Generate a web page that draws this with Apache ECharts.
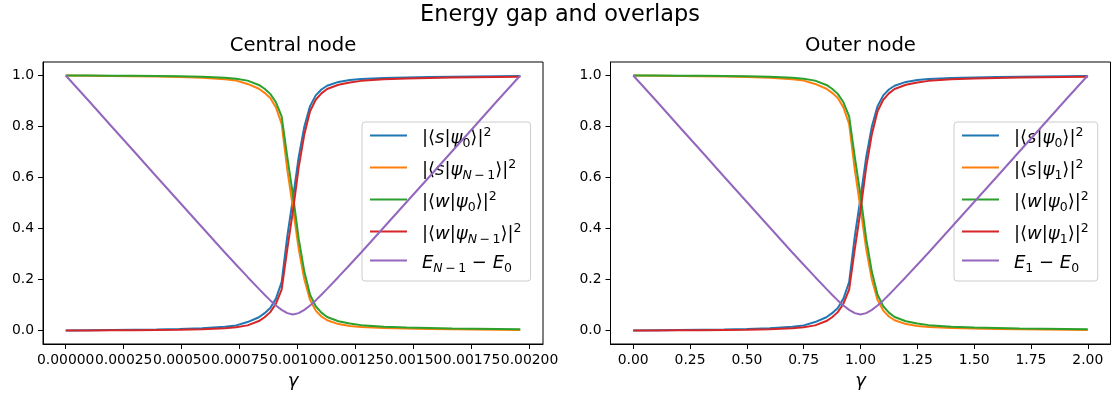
<!DOCTYPE html>
<html>
<head>
<meta charset="utf-8">
<script src="https://cdn.jsdelivr.net/npm/echarts@6/dist/echarts.min.js"></script>
<style>
  html, body { margin: 0; padding: 0; background: #fff; }
  #chart { width: 1119px; height: 397px; }
</style>
</head>
<body>
<div id="chart"></div>
<script>
// Coupling values for the outer-node sweep (γ from 0 to 2)
const gammaOuter = [0, 0.1, 0.2, 0.3, 0.4, 0.5, 0.6, 0.7, 0.75, 0.8, 0.85, 0.875, 0.9, 0.925, 0.95, 0.975,
  1.0, 1.025, 1.05, 1.075, 1.1, 1.125, 1.15, 1.2, 1.25, 1.3, 1.4, 1.5, 1.6, 1.7, 1.8, 1.9, 2.0];
// Coupling values for the central-node sweep
const gammaCentral = [0, 0.000098, 0.000196, 0.000294, 0.000392, 0.00049, 0.000588, 0.000686, 0.000735, 0.000784,
  0.000833, 0.0008575, 0.000882, 0.0009065, 0.000931, 0.0009555, 0.00098, 0.0010045, 0.001029, 0.0010535,
  0.001078, 0.0011025, 0.001127, 0.001176, 0.001225, 0.001274, 0.001372, 0.00147, 0.001568, 0.001666,
  0.001764, 0.001862, 0.00196];

// |<s|psi_0>|^2
const overlapS0 = [0.000, 0.001, 0.002, 0.003, 0.004, 0.006, 0.009, 0.015, 0.020, 0.033, 0.052, 0.068, 0.088, 0.125, 0.19, 0.37,
  0.52, 0.68, 0.80, 0.88, 0.922, 0.945, 0.960, 0.975, 0.982, 0.986, 0.990, 0.992, 0.994, 0.995, 0.996, 0.997, 0.998];
// |<s|psi_excited>|^2
const overlapS1 = [1.000, 0.999, 0.998, 0.997, 0.996, 0.994, 0.991, 0.985, 0.980, 0.967, 0.948, 0.932, 0.912, 0.875, 0.81, 0.63,
  0.48, 0.32, 0.20, 0.12, 0.078, 0.055, 0.040, 0.025, 0.018, 0.014, 0.010, 0.008, 0.006, 0.005, 0.004, 0.003, 0.002];
// |<w|psi_0>|^2
const overlapW0 = [1.000, 1.000, 0.999, 0.999, 0.998, 0.997, 0.995, 0.991, 0.987, 0.980, 0.963, 0.948, 0.928, 0.895, 0.84, 0.68,
  0.53, 0.36, 0.23, 0.14, 0.095, 0.070, 0.053, 0.036, 0.027, 0.021, 0.015, 0.012, 0.010, 0.008, 0.007, 0.006, 0.005];
// |<w|psi_excited>|^2
const overlapW1 = [0.000, 0.000, 0.001, 0.001, 0.002, 0.003, 0.005, 0.009, 0.013, 0.020, 0.037, 0.052, 0.072, 0.105, 0.16, 0.32,
  0.47, 0.64, 0.77, 0.86, 0.905, 0.930, 0.947, 0.964, 0.973, 0.979, 0.985, 0.988, 0.990, 0.992, 0.993, 0.994, 0.995];
// Energy gap between the two lowest relevant levels
const energyGap = [1.000, 0.902, 0.802, 0.703, 0.603, 0.504, 0.405, 0.306, 0.258, 0.210, 0.163, 0.140, 0.118, 0.098, 0.081, 0.068,
  0.063, 0.068, 0.081, 0.098, 0.118, 0.140, 0.163, 0.210, 0.258, 0.306, 0.405, 0.504, 0.603, 0.703, 0.802, 0.902, 1.000];

const yTicks = [0, 0.2, 0.4, 0.6, 0.8, 1.0];
const xTicksCentral = [0, 0.00025, 0.0005, 0.00075, 0.001, 0.00125, 0.0015, 0.00175, 0.002];
const xTicksOuter = [0, 0.25, 0.5, 0.75, 1.0, 1.25, 1.5, 1.75, 2.0];

const namesCentral = ['s0', 'sN', 'w0', 'wN', 'gapN'];
const namesOuter = ['s0', 's1', 'w0', 'w1', 'gap1'];
const colors = ['#1f77b4', '#ff7f0e', '#2ca02c', '#d62728', '#9467bd'];
const valueSets = [overlapS0, overlapS1, overlapW0, overlapW1, energyGap];

// Math-style legend labels as rich text
const TS = '\u2009';
const legendLabels = {
  s0:   '{g| }{t||⟨}{i|s}{t||}{i|ψ}{sb|0}{t|⟩|}{sp|2}',
  sN:   '{g| }{t||⟨}{i|s}{t||}{i|ψ}{si|N}{sb|' + TS + '−' + TS + '1}{t|⟩|}{sp|2}',
  w0:   '{g| }{t||⟨}{i|w}{t||}{i|ψ}{sb|0}{t|⟩|}{sp|2}',
  wN:   '{g| }{t||⟨}{i|w}{t||}{i|ψ}{si|N}{sb|' + TS + '−' + TS + '1}{t|⟩|}{sp|2}',
  gapN: '{g| }{i|E}{si|N}{sb|' + TS + '−' + TS + '1}{t| − }{i|E}{sb|0}',
  s1:   '{g| }{t||⟨}{i|s}{t||}{i|ψ}{sb|1}{t|⟩|}{sp|2}',
  w1:   '{g| }{t||⟨}{i|w}{t||}{i|ψ}{sb|1}{t|⟩|}{sp|2}',
  gap1: '{g| }{i|E}{sb|1}{t| − }{i|E}{sb|0}'
};

const FONT = 'DejaVu Sans';
const richStyles = {
  g:  { width: 10, fontSize: 18, lineHeight: 24 },
  t:  { fontFamily: FONT, fontSize: 18, lineHeight: 24, color: '#000' },
  i:  { fontFamily: FONT, fontSize: 18, fontStyle: 'italic', lineHeight: 24, color: '#000' },
  sb: { fontFamily: FONT, fontSize: 12.5, lineHeight: 14, verticalAlign: 'bottom', color: '#000' },
  si: { fontFamily: FONT, fontSize: 12.5, fontStyle: 'italic', lineHeight: 14, verticalAlign: 'bottom', color: '#000' },
  sp: { fontFamily: FONT, fontSize: 12.5, lineHeight: 14, verticalAlign: 'top', color: '#000' }
};

function makeLegend(names, left) {
  return {
    data: names,
    orient: 'vertical',
    left: left,
    top: 122,
    icon: 'rect',
    itemWidth: 37,
    itemHeight: 2,
    itemGap: 8,
    padding: [4, 9, 6, 8],
    backgroundColor: 'rgba(255,255,255,0.8)',
    borderColor: '#cccccc',
    borderWidth: 1,
    borderRadius: 3,
    selectedMode: false,
    formatter: name => legendLabels[name],
    textStyle: { fontFamily: FONT, fontSize: 18, color: '#000', padding: [5, 0, 0, 0], rich: richStyles }
  };
}

function makeSeries(xs, names, axisIndex) {
  return names.map((name, k) => ({
    name: name,
    type: 'line',
    xAxisIndex: axisIndex,
    yAxisIndex: axisIndex,
    data: xs.map((x, i) => [x, valueSets[k][i]]),
    showSymbol: false,
    symbol: 'none',
    lineStyle: { width: 2, color: colors[k] },
    itemStyle: { color: colors[k] },
    z: 2 + k
  }));
}

const tickLabelStyle = { fontFamily: FONT, fontSize: 13.9, color: '#000' };

function makeXAxis(gridIndex, min, max, ticks, digits) {
  return {
    type: 'value',
    gridIndex: gridIndex,
    min: min,
    max: max,
    name: 'γ',
    nameLocation: 'middle',
    nameGap: 27,
    nameTextStyle: { fontFamily: FONT, fontSize: 18, fontStyle: 'italic', color: '#000' },
    axisLine: { show: true, onZero: false, lineStyle: { color: '#000', width: 1 } },
    axisTick: { show: true, inside: false, length: 5, customValues: ticks, lineStyle: { color: '#000', width: 1 } },
    axisLabel: { margin: 9, customValues: ticks, formatter: v => v.toFixed(digits), ...tickLabelStyle },
    splitLine: { show: false }
  };
}

function makeYAxis(gridIndex) {
  return {
    type: 'value',
    gridIndex: gridIndex,
    min: -0.053,
    max: 1.053,
    axisLine: { show: true, onZero: false, lineStyle: { color: '#000', width: 1 } },
    axisTick: { show: true, inside: false, length: 5, customValues: yTicks, lineStyle: { color: '#000', width: 1 } },
    axisLabel: { margin: 9, customValues: yTicks, formatter: v => v.toFixed(1), ...tickLabelStyle },
    splitLine: { show: false }
  };
}

const chart = echarts.init(document.getElementById('chart'), null, { renderer: 'canvas' });
chart.setOption({
  animation: false,
  backgroundColor: '#ffffff',
  title: [
    { text: 'Energy gap and overlaps', left: 560, top: 4, textAlign: 'center', padding: 0,
      textStyle: { fontFamily: FONT, fontSize: 22.4, fontWeight: 'normal', color: '#000' } },
    { text: 'Central node', left: 293, top: 36, textAlign: 'center', padding: 0,
      textStyle: { fontFamily: FONT, fontSize: 19.6, fontWeight: 'normal', color: '#000' } },
    { text: 'Outer node', left: 860.5, top: 36, textAlign: 'center', padding: 0,
      textStyle: { fontFamily: FONT, fontSize: 19.6, fontWeight: 'normal', color: '#000' } }
  ],
  legend: [makeLegend(namesCentral, 362), makeLegend(namesOuter, 954)],
  grid: [
    { left: 43, top: 62, width: 500, height: 282, show: true, borderColor: '#000', borderWidth: 1, backgroundColor: 'transparent' },
    { left: 610.5, top: 62, width: 500, height: 282, show: true, borderColor: '#000', borderWidth: 1, backgroundColor: 'transparent' }
  ],
  xAxis: [
    makeXAxis(0, -0.000098, 0.002058, xTicksCentral, 5),
    makeXAxis(1, -0.1, 2.1, xTicksOuter, 2)
  ],
  yAxis: [makeYAxis(0), makeYAxis(1)],
  series: [...makeSeries(gammaCentral, namesCentral, 0), ...makeSeries(gammaOuter, namesOuter, 1)]
});
</script>
</body>
</html>
